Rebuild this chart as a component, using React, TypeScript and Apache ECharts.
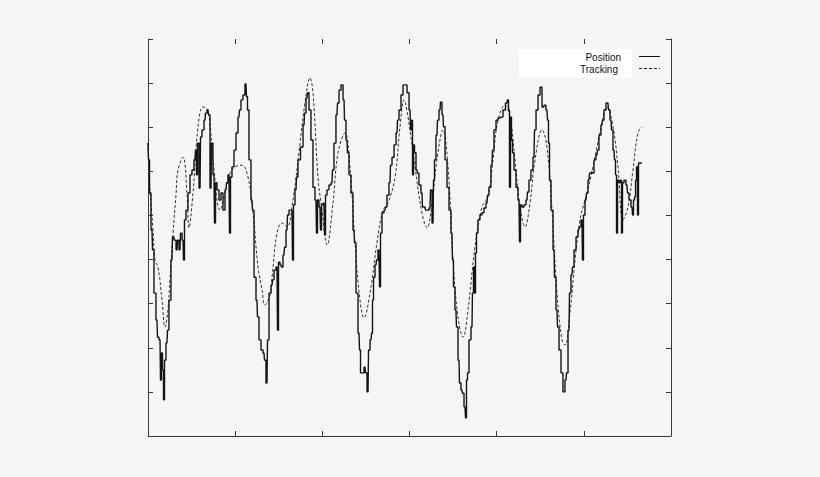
import React, { useEffect, useRef } from "react";
import * as echarts from "echarts";

// Time (s) and tracking signal value
const trackingTime = [0,0.23,0.57,0.80,1.15,1.61,1.95,2.29,2.52,2.87,3.21,3.44,4.02,4.47,4.70,5.16,5.74,6.31,6.88,7.46,8.26,8.83,9.41,9.98,10.78,11.47,12.05,12.62,13.08,13.42,14.0,14.23,14.80,15.37,15.95,16.63,17.44,18.01,18.58,18.93,19.50,19.96,20.54,21.22,21.80,22.60,23.17,23.75,24.32,24.78,25.47,26.27,26.96,27.53,28.34,28.91,29.37,29.83,30.63,31.43,32.01,32.58,33.15,33.84,34.42,34.99,35.56,36.14,36.71,37.51,38.32,39.0,39.58,40.15,40.96,41.53,42.10,42.68,43.25,43.82,44.40,45.20,45.77,46.35,46.92,47.49,47.84,48.41,48.99,49.56,50.36,51.05,51.85,52.66,53.35,53.92,54.49,55.07,55.64,56.21,56.67];
const trackingValue = [66.4,55.8,46.7,39.9,38.3,30.8,24.7,28.6,35.4,46.0,54.6,60.3,63.2,55.1,47.2,55.1,70.1,74.6,73.9,62.6,51.2,55.1,59.6,61.0,61.4,58.7,50.6,38.3,33.1,29.7,32.0,36.0,46.0,48.3,47.4,53.5,66.4,75.5,81.2,77.8,58.7,51.2,43.3,52.8,64.2,68.7,61.0,43.8,30.8,26.8,32.4,43.8,51.2,52.8,58.7,70.1,76.2,72.3,61.0,50.6,47.2,52.8,62.6,69.4,61.0,39.9,27.0,22.4,28.6,42.8,51.9,54.2,62.6,71.6,75.0,72.3,62.6,51.9,47.4,52.8,62.6,69.4,65.5,51.2,32.4,21.8,20.6,27.9,39.9,49.0,55.1,61.0,68.7,74.6,70.1,61.0,49.0,51.9,60.3,68.7,70.1];

// Position samples [time, value]
const positionSamples: [number, number][] = [
  [0,66.4],[0.11,62.6],[0.23,55.1],[0.46,46.7],[0.57,42.2],[0.80,32.4],[1.03,26.3],[1.15,22.4],[1.38,21.8],[1.49,12.7],[1.61,18.8],[1.72,15.0],[1.84,8.2],[1.95,17.2],[2.18,21.1],[2.29,24.0],[2.52,30.8],[2.75,39.9],[2.87,45.1],[3.10,44.4],[3.33,42.2],[3.44,44.4],[3.67,42.2],[3.79,46.0],[4.02,44.4],[4.13,39.9],[4.24,49.0],[4.47,51.2],[4.70,55.1],[4.93,59.2],[5.16,60.3],[5.39,62.6],[5.51,64.8],[5.62,59.2],[5.74,66.4],[5.97,56.2],[6.08,67.8],[6.31,69.4],[6.54,71.6],[6.65,73.2],[6.88,73.9],[7.00,72.8],[7.23,56.2],[7.34,66.4],[7.57,59.2],[7.69,48.3],[7.80,57.4],[8.03,55.8],[8.26,53.5],[8.49,55.1],[8.72,51.2],[8.95,55.8],[9.06,57.4],[9.29,59.2],[9.41,46.0],[9.52,58.7],[9.75,61.0],[9.98,64.8],[10.21,68.7],[10.44,72.3],[10.55,73.9],[10.78,76.2],[11.01,77.3],[11.24,79.8],[11.36,76.9],[11.47,73.9],[11.70,62.6],[11.93,53.5],[12.05,51.2],[12.28,36.0],[12.50,30.8],[12.62,27.0],[12.85,21.8],[13.08,19.5],[13.31,18.8],[13.42,17.2],[13.65,12.0],[13.77,21.8],[14.0,32.4],[14.23,34.2],[14.34,35.4],[14.57,37.6],[14.80,38.3],[14.91,24.0],[15.03,39.4],[15.26,38.8],[15.37,38.3],[15.60,41.0],[15.72,42.8],[15.95,46.7],[16.06,50.1],[16.29,51.2],[16.52,51.2],[16.63,39.9],[16.75,52.4],[16.98,55.8],[17.09,58.7],[17.32,62.6],[17.67,65.5],[17.90,70.5],[18.01,73.2],[18.24,76.6],[18.36,77.8],[18.58,73.9],[18.81,67.1],[19.04,56.4],[19.27,53.5],[19.39,46.0],[19.50,53.5],[19.73,51.9],[19.85,46.7],[19.96,52.4],[20.19,52.8],[20.31,45.6],[20.42,54.6],[20.65,55.8],[20.88,56.9],[21.11,57.4],[21.22,60.3],[21.45,66.4],[21.68,72.8],[21.80,75.5],[22.03,78.4],[22.26,79.6],[22.49,76.2],[22.60,71.6],[22.83,67.1],[22.94,64.2],[23.17,59.2],[23.40,55.1],[23.63,46.7],[23.75,43.8],[23.98,32.4],[24.21,23.3],[24.32,19.5],[24.44,14.3],[24.67,14.3],[24.90,15.6],[25.01,14.3],[25.24,10.0],[25.36,19.5],[25.59,21.8],[25.70,23.3],[25.81,30.8],[25.93,36.0],[26.16,38.8],[26.27,39.9],[26.50,42.2],[26.62,33.8],[26.73,46.0],[26.96,50.6],[27.19,51.2],[27.30,51.9],[27.53,54.6],[27.76,57.4],[27.88,61.4],[28.11,63.2],[28.34,66.0],[28.57,68.7],[28.68,71.6],[28.91,73.9],[29.14,77.3],[29.37,79.6],[29.60,79.6],[29.83,77.8],[30.06,73.9],[30.17,69.4],[30.29,71.6],[30.40,59.2],[30.52,66.0],[30.63,64.2],[30.86,60.3],[30.97,59.6],[31.20,56.9],[31.43,55.1],[31.55,51.9],[31.78,51.9],[31.89,51.2],[32.12,51.2],[32.35,51.7],[32.47,55.8],[32.70,48.3],[32.81,58.0],[32.92,62.6],[33.15,68.2],[33.27,71.6],[33.50,73.9],[33.61,75.7],[33.84,72.8],[33.96,70.1],[34.19,62.6],[34.42,56.4],[34.65,51.2],[34.87,46.0],[34.99,39.9],[35.10,33.8],[35.33,28.6],[35.45,24.7],[35.68,17.2],[35.79,12.0],[36.02,10.4],[36.14,9.7],[36.37,6.6],[36.48,4.1],[36.60,12.7],[36.71,14.3],[36.94,21.8],[37.17,24.7],[37.28,32.4],[37.40,38.3],[37.51,32.4],[37.63,41.5],[37.74,46.0],[37.97,49.0],[38.20,50.1],[38.43,50.6],[38.66,51.7],[38.89,52.8],[39.0,54.6],[39.23,56.4],[39.46,61.4],[39.58,64.8],[39.81,69.4],[40.04,71.6],[40.27,72.1],[40.61,72.3],[40.84,73.9],[41.18,75.5],[41.30,76.2],[41.41,73.9],[41.53,56.4],[41.64,72.3],[41.76,67.1],[41.87,64.2],[42.10,60.3],[42.33,56.4],[42.56,53.5],[42.68,44.0],[42.79,52.4],[43.02,51.9],[43.25,52.4],[43.48,53.5],[43.59,55.3],[43.82,58.0],[44.05,60.3],[44.28,63.2],[44.40,69.4],[44.63,73.9],[44.86,77.3],[45.09,79.1],[45.31,74.6],[45.54,75.0],[45.77,73.9],[45.89,71.6],[46.00,66.4],[46.12,58.0],[46.35,51.2],[46.58,42.2],[46.69,36.0],[46.92,28.6],[47.04,24.7],[47.27,19.5],[47.49,14.3],[47.72,10.0],[47.95,12.7],[48.07,14.3],[48.30,24.0],[48.41,32.4],[48.64,36.5],[48.76,38.3],[48.99,42.2],[49.22,45.1],[49.44,46.7],[49.56,47.4],[49.79,49.0],[49.90,39.9],[50.02,50.1],[50.25,53.5],[50.36,55.1],[50.59,58.0],[50.71,59.6],[50.94,59.8],[51.05,59.6],[51.28,62.6],[51.51,63.7],[51.62,64.8],[51.85,68.2],[52.08,70.5],[52.20,71.6],[52.43,73.9],[52.66,75.5],[52.77,75.5],[52.89,73.9],[53.12,71.6],[53.23,69.4],[53.46,64.8],[53.58,62.6],[53.69,59.2],[53.81,46.0],[53.92,58.0],[54.15,57.4],[54.27,58.0],[54.38,46.0],[54.49,57.4],[54.72,58.0],[54.95,56.9],[55.07,55.1],[55.30,53.5],[55.53,51.9],[55.64,50.1],[55.76,53.5],[55.87,54.2],[55.99,58.0],[56.10,61.0],[56.21,50.1],[56.33,61.9],[56.67,61.9]
];

const legendNames = ["Position", "Tracking"];

export default function App() {
  const ref = useRef<HTMLDivElement>(null);
  useEffect(() => {
    if (!ref.current) return;
    const chart = echarts.init(ref.current, undefined, { renderer: "svg" });
    const axisColor = "#3a3a3a";
    const tickCommon = {
      show: true,
      inside: true,
      length: 5,
      lineStyle: { color: axisColor, width: 1 },
    };
    const trackingData = trackingTime.map((t, i) => [t, trackingValue[i]]);
    chart.setOption({
      animation: false,
      backgroundColor: "#f5f5f5",
      grid: { left: 148, right: 149, top: 39, bottom: 41, containLabel: false },
      xAxis: [
        {
          type: "value", min: 0, max: 60, interval: 10, position: "bottom",
          axisLine: { show: true, onZero: false, lineStyle: { color: axisColor, width: 1 } },
          axisTick: tickCommon, axisLabel: { show: false }, splitLine: { show: false },
        },
        {
          type: "value", min: 0, max: 60, interval: 10, position: "top",
          axisLine: { show: false, onZero: false },
          axisTick: tickCommon, axisLabel: { show: false }, splitLine: { show: false },
        },
      ],
      yAxis: [
        {
          type: "value", min: 0, max: 90, interval: 10, position: "left",
          axisLine: { show: true, onZero: false, lineStyle: { color: axisColor, width: 1 } },
          axisTick: tickCommon, axisLabel: { show: false }, splitLine: { show: false },
        },
        {
          type: "value", min: 0, max: 90, interval: 10, position: "right",
          axisLine: { show: true, onZero: false, lineStyle: { color: axisColor, width: 1 } },
          axisTick: tickCommon, axisLabel: { show: false }, splitLine: { show: false },
        },
      ],
      series: [
        {
          name: legendNames[1],
          type: "line",
          data: trackingData,
          smooth: 0.4,
          showSymbol: false,
          lineStyle: { color: "#333333", width: 1, type: [3, 2] },
          z: 2,
        },
        {
          name: legendNames[0],
          type: "line",
          data: positionSamples,
          step: "middle",
          showSymbol: false,
          lineStyle: { color: "#141414", width: 1.4 },
          z: 3,
        },
      ],
      graphic: [
        { type: "rect", shape: { x: 519, y: 49, width: 113, height: 29 }, style: { fill: "#ffffff" }, z: 10 },
        {
          type: "text", x: 621, y: 57, z: 11,
          style: { text: legendNames[0], fill: "#111", font: "10px 'Liberation Sans', Arial, sans-serif", align: "right", verticalAlign: "middle" },
        },
        {
          type: "text", x: 618, y: 69, z: 11,
          style: { text: legendNames[1], fill: "#111", font: "10px 'Liberation Sans', Arial, sans-serif", align: "right", verticalAlign: "middle" },
        },
        { type: "line", shape: { x1: 639, y1: 56.5, x2: 660, y2: 56.5 }, style: { stroke: "#111", lineWidth: 1 }, z: 11 },
        { type: "line", shape: { x1: 639, y1: 68.5, x2: 660, y2: 68.5 }, style: { stroke: "#222", lineWidth: 1, lineDash: [3, 2] }, z: 11 },
      ],
    });
    return () => chart.dispose();
  }, []);
  return (
    <div
      ref={ref}
      style={{ position: "fixed", left: 0, top: 0, width: 820, height: 477 }}
    />
  );
}
